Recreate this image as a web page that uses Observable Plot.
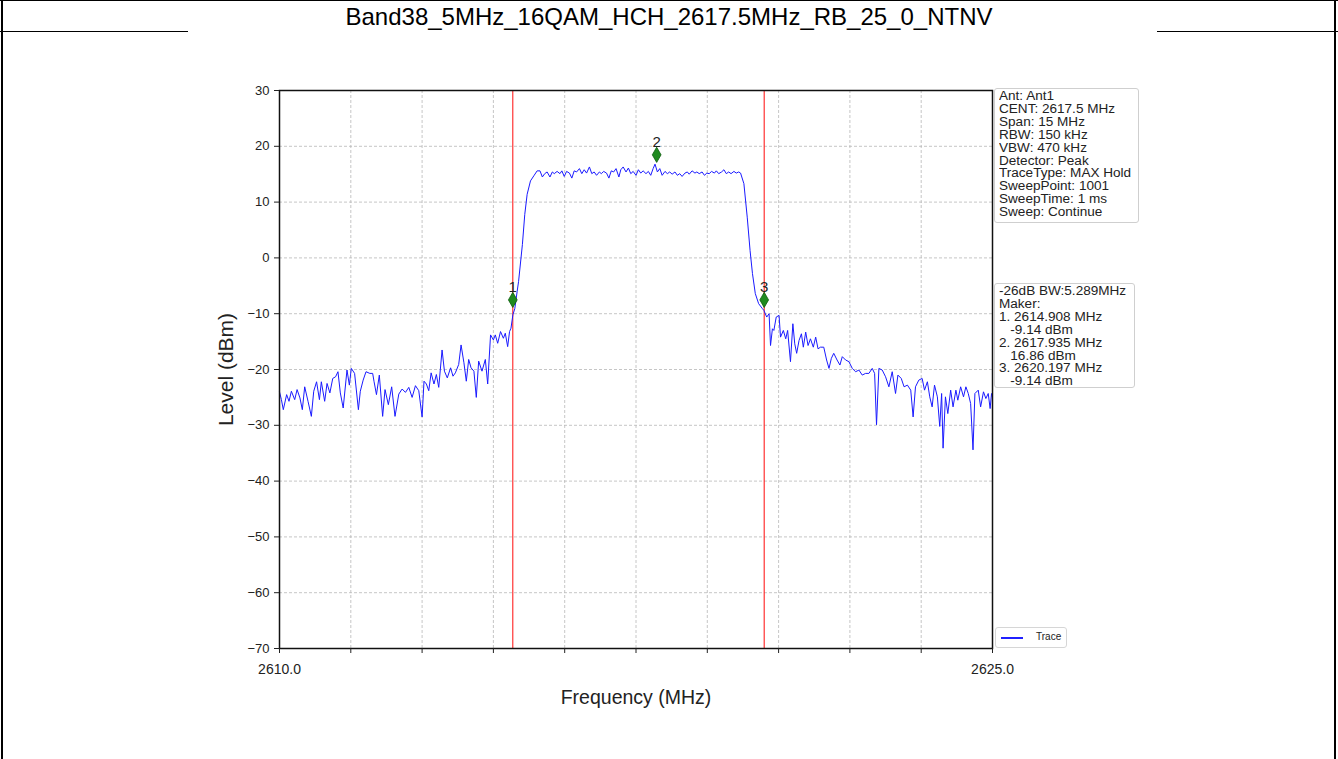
<!DOCTYPE html>
<html><head><meta charset="utf-8">
<script src="https://cdn.jsdelivr.net/npm/d3@7"></script>
<script src="https://cdn.jsdelivr.net/npm/@observablehq/plot@0.6"></script>
<style>
body{margin:0;background:#fff;font-family:"Liberation Sans",Arial,sans-serif;}
#page{position:relative;width:1338px;height:759px;overflow:hidden;background:#fff;}
#title{position:absolute;left:0;top:0;width:1338px;height:31px;line-height:33px;text-align:center;font-size:24px;color:#000;}
.ln{position:absolute;background:#000;}
#chart{position:absolute;left:0;top:32px;}
.box{position:absolute;border:1px solid #cfcfcf;border-radius:3px;background:#fff;color:#222;padding:1px 0 0 4px;box-sizing:border-box;}
.box .tx{display:inline-block;white-space:pre;font-size:12px;line-height:12.9px;transform:scaleX(1.13);transform-origin:0 0;}
#legend{position:absolute;left:995px;top:627px;width:72px;height:21px;border:1px solid #d6d6d6;border-radius:3px;background:#fff;box-sizing:border-box;}
#legend .sw{position:absolute;left:5px;top:9px;width:22px;height:1.5px;background:#2020ff;}
#legend .lb{position:absolute;left:40px;top:3px;font-size:10px;color:#222;}
</style></head><body>
<div id="page">
  <div id="title"></div>
  <div id="chart"></div>
  <div class="ln" style="left:0;top:0;width:1338px;height:1px"></div>
  <div class="ln" style="left:1px;top:0;width:2px;height:759px"></div>
  <div class="ln" style="left:1334px;top:0;width:2px;height:759px"></div>
  <div class="ln" style="left:0;top:31px;width:188px;height:1px"></div>
  <div class="ln" style="left:1157px;top:31px;width:181px;height:1px"></div>
  <div class="box" style="left:994px;top:88px;width:145px;height:135px"><span class="tx" id="info1"></span></div>
  <div class="box" style="left:994px;top:283px;width:141px;height:105px"><span class="tx" id="info2"></span></div>
  <div id="legend"><div class="sw"></div><div class="lb"></div></div>
</div>
<script>
const titleText = "Band38_5MHz_16QAM_HCH_2617.5MHz_RB_25_0_NTNV";
const xLabel = "Frequency (MHz)";
const yLabel = "Level (dBm)";
const legendLabel = "Trace";

// trace: [frequency MHz, level dBm]
const traceLeft = [
  [2610.0,-24.0],[2610.04,-25.4],[2610.08,-27.2],[2610.15,-24.5],[2610.2,-25.7],[2610.25,-23.9],[2610.32,-25.4],
  [2610.37,-23.6],[2610.43,-25.1],[2610.48,-27.2],[2610.53,-23.1],[2610.6,-25.7],[2610.67,-28.4],[2610.72,-23.9],
  [2610.78,-22.2],[2610.84,-25.4],[2610.88,-22.2],[2610.95,-25.7],[2611.0,-22.5],[2611.06,-24.2],[2611.12,-21.6],
  [2611.18,-21.3],[2611.23,-20.4],[2611.28,-24.2],[2611.34,-26.9],[2611.42,-20.1],[2611.47,-22.8],[2611.51,-19.8],
  [2611.58,-20.7],[2611.66,-27.2],[2611.7,-23.9],[2611.76,-21.9],[2611.82,-20.4],[2611.9,-20.7],[2611.96,-20.7],
  [2611.99,-22.2],[2612.04,-24.5],[2612.1,-21.0],[2612.17,-28.4],[2612.22,-23.6],[2612.29,-26.3],[2612.36,-23.1],
  [2612.43,-28.4],[2612.51,-24.4],[2612.58,-23.5],[2612.65,-24.1],[2612.72,-23.2],[2612.79,-25.0],[2612.86,-22.9],
  [2612.93,-23.8],[2613.0,-28.5],[2613.04,-22.1],[2613.09,-22.6],[2613.14,-23.8],[2613.19,-20.6],[2613.25,-22.6],
  [2613.3,-20.9],[2613.35,-23.2],[2613.42,-16.5],[2613.47,-20.3],[2613.53,-21.5],[2613.6,-19.7],[2613.65,-21.2],
  [2613.7,-20.6],[2613.77,-19.1],[2613.82,-15.6],[2613.88,-18.8],[2613.93,-22.1],[2613.98,-18.2],[2614.03,-19.7],
  [2614.09,-20.3],[2614.14,-25.0],[2614.19,-18.5],[2614.26,-20.3],[2614.33,-18.2],[2614.38,-22.6],[2614.44,-13.8],
  [2614.5,-14.7],[2614.54,-13.8],[2614.59,-15.3],[2614.65,-13.2],[2614.71,-14.4],[2614.75,-13.5],[2614.8,-15.9],
  [2614.84,-13.2],[2614.87,-12.6]
];
const traceRise = [
  [2614.91,-10.2],[2614.95,-9.1],[2615.0,-6.0],[2615.03,-4.2],[2615.11,2.4],[2615.16,7.8],[2615.21,11.4],
  [2615.28,13.8],[2615.35,14.7],[2615.42,15.6]
];
const traceTop = [
  [2615.48,15.6],[2615.53,14.5],[2615.58,15.1],[2615.63,15.4],[2615.69,14.5],[2615.74,15.4],[2615.78,15.1],
  [2615.84,15.5],[2615.9,15.1],[2615.94,15.6],[2615.99,14.6],[2616.04,15.5],[2616.1,15.2],[2616.15,14.3],
  [2616.2,15.6],[2616.25,15.4],[2616.31,16.0],[2616.36,15.1],[2616.41,15.8],[2616.46,15.2],[2616.52,16.3],
  [2616.57,15.1],[2616.62,15.4],[2616.67,14.8],[2616.73,15.4],[2616.77,15.1],[2616.82,15.5],[2616.88,15.2],
  [2616.93,14.3],[2616.98,15.6],[2617.03,15.4],[2617.08,16.0],[2617.14,14.5],[2617.18,15.8],[2617.23,16.3],
  [2617.29,15.4],[2617.34,16.1],[2617.39,15.1],[2617.44,15.5],[2617.5,14.8],[2617.55,15.8],[2617.6,15.2],
  [2617.65,15.6],[2617.71,15.1],[2617.76,15.5],[2617.81,14.8],[2617.86,16.0],[2617.9,16.8],[2617.95,15.4],
  [2618.0,16.0],[2618.05,14.8],[2618.11,15.5],[2618.16,15.1],[2618.21,15.4],[2618.26,15.0],[2618.32,15.4],
  [2618.37,14.8],[2618.42,15.1],[2618.47,14.6],[2618.53,15.2],[2618.58,15.4],[2618.62,15.0],[2618.68,15.6],
  [2618.74,15.2],[2618.78,15.4],[2618.83,15.1],[2618.89,15.4],[2618.94,14.8],[2618.99,15.2],[2619.04,15.1],
  [2619.09,15.5],[2619.15,15.2],[2619.19,15.6],[2619.24,15.1],[2619.3,15.4],[2619.35,15.8],[2619.4,15.1],
  [2619.45,15.4],[2619.5,15.1],[2619.56,15.5],[2619.61,15.2],[2619.66,15.4],[2619.7,15.2]
];
const traceFall = [
  [2619.77,13.3],[2619.84,7.3],[2619.9,1.3],[2619.95,-2.8],[2620.01,-6.4],[2620.08,-8.2],[2620.16,-9.1]
];
const traceRight = [
  [2620.19,-9.4],[2620.25,-10.6],[2620.3,-10.0],[2620.33,-15.7],[2620.37,-12.7],[2620.4,-13.0],[2620.45,-10.6],
  [2620.51,-10.3],[2620.54,-14.2],[2620.6,-13.0],[2620.65,-14.5],[2620.69,-13.0],[2620.75,-18.6],[2620.8,-11.8],
  [2620.84,-15.4],[2620.88,-17.1],[2620.93,-14.8],[2620.98,-13.6],[2621.02,-16.0],[2621.07,-13.3],[2621.12,-15.7],
  [2621.17,-14.5],[2621.23,-16.0],[2621.28,-14.2],[2621.33,-16.3],[2621.38,-16.0],[2621.45,-16.0],[2621.51,-18.3],
  [2621.56,-19.8],[2621.61,-18.0],[2621.66,-17.1],[2621.73,-18.3],[2621.79,-19.2],[2621.84,-17.7],[2621.91,-18.3],
  [2621.98,-18.6],[2622.05,-19.8],[2622.12,-20.4],[2622.19,-20.1],[2622.26,-21.0],[2622.33,-20.7],[2622.4,-20.7],
  [2622.47,-19.8],[2622.52,-20.7],[2622.56,-29.9],[2622.61,-19.8],[2622.68,-20.1],[2622.75,-21.3],[2622.82,-23.1],
  [2622.89,-20.4],[2622.96,-24.3],[2623.01,-21.0],[2623.08,-21.6],[2623.14,-23.1],[2623.21,-22.8],[2623.28,-23.7],
  [2623.33,-28.5],[2623.38,-23.1],[2623.45,-21.9],[2623.52,-21.6],[2623.57,-23.7],[2623.63,-22.2],[2623.68,-24.9],
  [2623.73,-26.7],[2623.78,-22.8],[2623.84,-24.9],[2623.89,-30.2],[2623.93,-24.3],[2623.96,-34.1],[2624.01,-24.9],
  [2624.06,-27.9],[2624.12,-23.7],[2624.17,-26.7],[2624.23,-23.7],[2624.27,-25.5],[2624.33,-23.1],[2624.39,-24.9],
  [2624.44,-23.1],[2624.49,-24.3],[2624.54,-26.1],[2624.59,-34.4],[2624.63,-24.3],[2624.7,-23.7],[2624.75,-26.7],
  [2624.81,-24.0],[2624.86,-25.2],[2624.91,-24.3],[2624.95,-27.0],[2624.98,-24.3],[2625.0,-25.0]
];

const markerFreq = [2614.908, 2617.935, 2620.197];
const markerLevel = [-9.14, 16.86, -9.14];
const markerLabel = ["1", "2", "3"];
const bwLineFreq = [2614.908, 2620.197];

const xTicks = [2610, 2611.5, 2613, 2614.5, 2616, 2617.5, 2619, 2620.5, 2622, 2623.5, 2625];
const xTickLabels = ["2610.0", "", "", "", "", "", "", "", "", "", "2625.0"];
const yTicks = [-70, -60, -50, -40, -30, -20, -10, 0, 10, 20, 30];

const infoLines1 = ["Ant: Ant1", "CENT: 2617.5 MHz", "Span: 15 MHz", "RBW: 150 kHz", "VBW: 470 kHz",
  "Detector: Peak", "TraceType: MAX Hold", "SweepPoint: 1001", "SweepTime: 1 ms", "Sweep: Continue"];
const infoLines2 = ["-26dB BW:5.289MHz", "Maker:", "1. 2614.908 MHz", "   -9.14 dBm", "2. 2617.935 MHz",
  "   16.86 dBm", "3. 2620.197 MHz", "   -9.14 dBm"];

const trace = [...traceLeft, ...traceRise, ...traceTop, ...traceFall, ...traceRight]
  .map(([f, l]) => ({f, l}));
const markers = markerFreq.map((f, i) => ({f, l: markerLevel[i], label: markerLabel[i]}));

document.getElementById("title").textContent = titleText;
document.getElementById("info1").textContent = infoLines1.join("\n");
document.getElementById("info2").textContent = infoLines2.join("\n");
document.querySelector("#legend .lb").textContent = legendLabel;

const gridStyle = {stroke: "#b8b8b8", strokeOpacity: 1, strokeWidth: 0.8, strokeDasharray: "3,2"};
const fmtY = d => d < 0 ? "\u2212" + Math.abs(d) : String(d);

const chart = Plot.plot({
  width: 1338, height: 727,
  marginLeft: 279, marginRight: 346, marginTop: 58, marginBottom: 111,
  style: {fontFamily: "'Liberation Sans', Arial, sans-serif", fontSize: "13px", color: "#222", background: "transparent", overflow: "visible"},
  x: {domain: [2610, 2625]},
  y: {domain: [-70, 30]},
  marks: [
    Plot.gridX(xTicks, gridStyle),
    Plot.gridY(yTicks, gridStyle),
    Plot.ruleX(bwLineFreq, {stroke: "#ff2020", strokeWidth: 1.1}),
    Plot.line(trace, {x: "f", y: "l", stroke: "#1a1aff", strokeWidth: 1}),
    Plot.dot(markers, {x: "f", y: "l", symbol: "diamond", r: 4.6, fill: "#1f8a1f", stroke: "#0d5c0d", strokeWidth: 0.8, dy: -9}),
    Plot.text(markers, {x: "f", y: "l", text: "label", dy: -22, fontSize: 15, fill: "#222"}),
    Plot.frame({stroke: "#111", strokeWidth: 1.5}),
    Plot.axisY(yTicks, {tickSize: 5, tickPadding: 5, fontSize: 13, tickFormat: fmtY, label: null}),
    Plot.axisX(xTicks, {tickSize: 5, tickPadding: 11, fontSize: 14, tickFormat: (d, i) => xTickLabels[i], label: null}),
    Plot.text([yLabel], {text: d => d, frameAnchor: "left", textAnchor: "middle", lineAnchor: "middle", dx: -53, rotate: -90, fontSize: 21, fill: "#222"}),
    Plot.text([xLabel], {text: d => d, frameAnchor: "bottom", textAnchor: "middle", lineAnchor: "middle", dy: 49, fontSize: 19.5, fill: "#222"})
  ]
});
document.getElementById("chart").appendChild(chart);
</script>
</body></html>
